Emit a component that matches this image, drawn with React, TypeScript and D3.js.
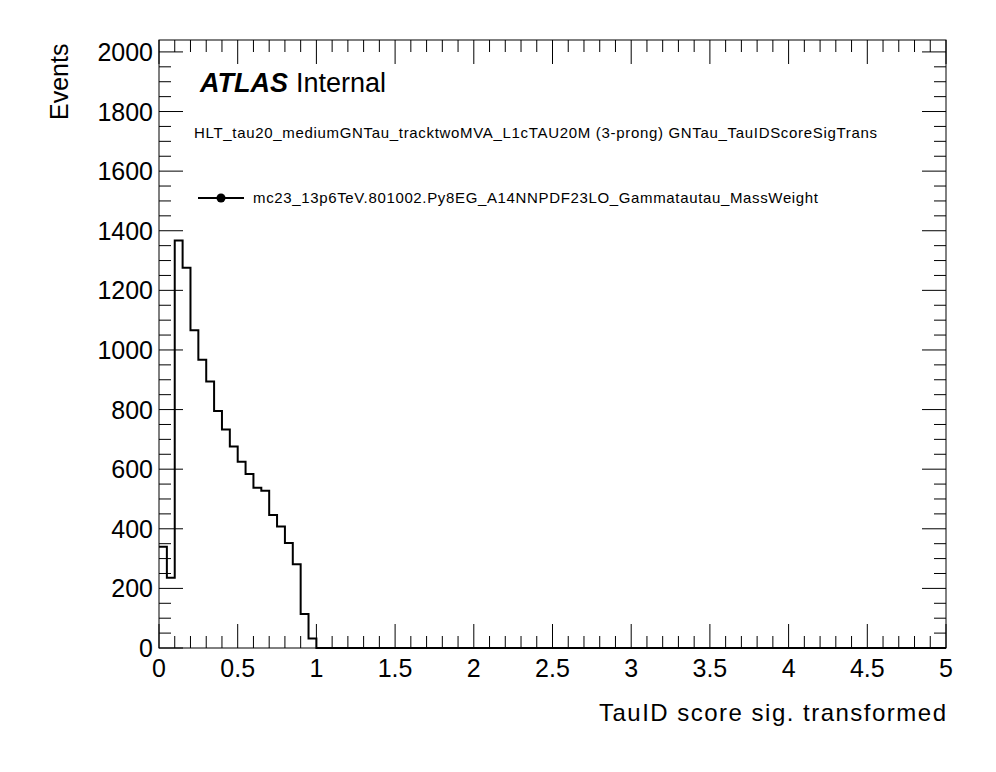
import * as d3 from "d3";

const BIN_WIDTH = 0.05;
const N_BINS = 100;
const nonZero = [340, 236, 1367, 1276, 1066, 967, 894, 795, 733, 676, 625, 584, 538, 528, 446, 408, 352, 281, 114, 32];
const counts = d3.range(N_BINS).map((i) => (i < nonZero.length ? nonZero[i] : 0));
const xMajor = d3.range(0, 5.01, 0.5);
const yMajor = d3.range(0, 2001, 200);

const W = 996;
const H = 772;
const P = { left: 159, right: 946, top: 40, bottom: 648 };

export default function App() {
  const x = d3.scaleLinear().domain([0, 5]).range([P.left, P.right]);
  const y = d3.scaleLinear().domain([0, 2040]).range([P.bottom, P.top]);

  // step outline like ROOT hist
  let path = `M${x(0)},${y(counts[0])}`;
  counts.forEach((c, i) => {
    path += `H${x((i + 1) * BIN_WIDTH)}`;
    if (i + 1 < counts.length) path += `V${y(counts[i + 1])}`;
  });

  const xMinor = d3.range(0, 5.001, 0.1);
  const yMinor = d3.range(0, 2040, 50);
  const font = "Liberation Sans, Arial, sans-serif";

  return (
    <svg width={W} height={H} style={{ position: "absolute", left: 0, top: 0, background: "#fff" }} fontFamily={font}>
      <rect width={W} height={H} fill="#fff" />
      <rect x={P.left} y={P.top} width={P.right - P.left} height={P.bottom - P.top} fill="none" stroke="#000" />
      {xMinor.map((v, i) => {
        const major = Math.abs(v * 2 - Math.round(v * 2)) < 1e-6;
        const len = major ? 24 : 12;
        return (
          <g key={"x" + i}>
            <line x1={x(v)} x2={x(v)} y1={P.bottom} y2={P.bottom - len} stroke="#000" />
            <line x1={x(v)} x2={x(v)} y1={P.top} y2={P.top + len} stroke="#000" />
          </g>
        );
      })}
      {yMinor.map((v, i) => {
        const len = v % 200 === 0 ? 24 : 12;
        return (
          <g key={"y" + i}>
            <line x1={P.left} x2={P.left + len} y1={y(v)} y2={y(v)} stroke="#000" />
            <line x1={P.right} x2={P.right - len} y1={y(v)} y2={y(v)} stroke="#000" />
          </g>
        );
      })}
      {xMajor.map((v) => (
        <text key={"xl" + v} x={x(v)} y={677} textAnchor="middle" fontSize={25}>
          {String(v)}
        </text>
      ))}
      {yMajor.map((v) => (
        <text key={"yl" + v} x={153} y={y(v) + 9} textAnchor="end" fontSize={25}>
          {v}
        </text>
      ))}
      <path d={path} fill="none" stroke="#000" strokeWidth={2} />
      <text x={946} y={721} textAnchor="end" fontSize={24} textLength={347}>TauID score sig. transformed</text>
      <text transform="translate(68,120) rotate(-90)" fontSize={25}>Events</text>
      <text x={200} y={92} fontSize={27}>
        <tspan fontWeight="bold" fontStyle="italic">ATLAS</tspan>
        <tspan dx={8}>Internal</tspan>
      </text>
      <text x={194} y={138} fontSize={15} textLength={683}>
        HLT_tau20_mediumGNTau_tracktwoMVA_L1cTAU20M (3-prong) GNTau_TauIDScoreSigTrans
      </text>
      <line x1={198} x2={244} y1={198} y2={198} stroke="#000" strokeWidth={2} />
      <circle cx={221} cy={198} r={4.5} fill="#000" />
      <text x={253} y={203} fontSize={15} textLength={565}>mc23_13p6TeV.801002.Py8EG_A14NNPDF23LO_Gammatautau_MassWeight</text>
    </svg>
  );
}
